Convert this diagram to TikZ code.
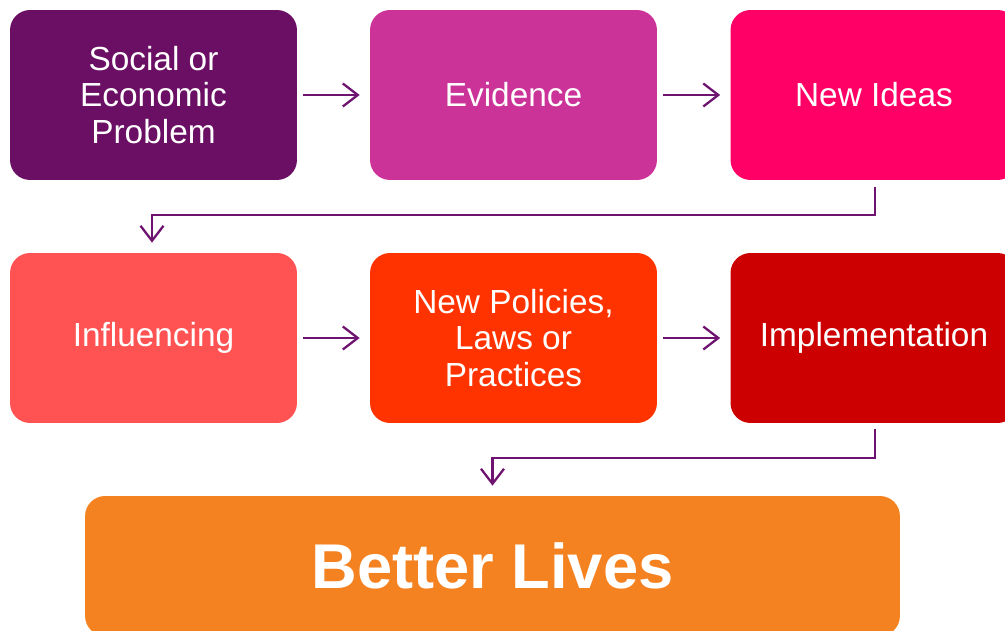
\documentclass[tikz,border=0pt]{standalone}
\usepackage{fontspec}
\setmainfont{Liberation Sans}
\usepackage{xcolor}
\usetikzlibrary{arrows.meta}

\definecolor{plum}{HTML}{6B0F64}
\definecolor{orchid}{HTML}{CC3399}
\definecolor{rose}{HTML}{FF0066}
\definecolor{salmon}{HTML}{FF5353}
\definecolor{flame}{HTML}{FF3300}
\definecolor{crimson}{HTML}{CC0000}
\definecolor{amber}{HTML}{F58220}
\definecolor{linkcol}{HTML}{6E1470}

\tikzset{
  box/.style={rectangle, rounded corners=0.4cm, draw=none, text=white,
    minimum width=5.74cm, minimum height=3.4cm, align=center,
    inner sep=0pt, font=\fontsize{19}{20.7}\selectfont},
  flow/.style={draw=linkcol, line width=1.3pt,
    -{Straight Barb[length=0.3cm, width=0.46cm, line width=1.3pt]}}
}

\begin{document}
\begin{tikzpicture}[x=0.02cm, y=-0.02cm]
            \useasboundingbox (0,0) rectangle (1005,631);
            % first row
            \node[box, fill=plum] (prob) at (153.5,95) {Social or\\Economic\\Problem};
            \node[box, fill=orchid] (evid) at (513.5,95) {Evidence};
            \node[box, fill=rose] (ideas) at (874,95) {New Ideas};

            % second row
            \node[box, fill=salmon] (infl) at (153.5,338) {Influencing};
            \node[box, fill=flame] (polic) at (513.5,338) {New Policies,\\Laws or\\Practices};
            \node[box, fill=crimson] (impl) at (874,338) {Implementation};

            % result
            \node[box, fill=amber, minimum width=16.3cm, minimum height=2.8cm,
                  font=\fontsize{36}{40}\selectfont\bfseries] (lives) at (492.5,566) {Better Lives};

            % links
            \draw[flow, shorten <=0.12cm, shorten >=0.2cm] (prob) -- (evid);
            \draw[flow, shorten <=0.12cm, shorten >=0.2cm] (evid) -- (ideas);
            \draw[flow, shorten <=0.12cm, shorten >=0.2cm] (infl) -- (polic);
            \draw[flow, shorten <=0.12cm, shorten >=0.2cm] (polic) -- (impl);

            \draw[flow] ([xshift=0.02cm, yshift=-0.14cm]ideas.south) -- ++(0,28)
                -| ([xshift=-0.03cm, yshift=0.2cm]infl.north);
            \draw[flow] ([xshift=0.02cm, yshift=-0.12cm]impl.south) -- ++(0,29)
                -| ([yshift=0.2cm]lives.north);
        \end{tikzpicture}
\end{document}
